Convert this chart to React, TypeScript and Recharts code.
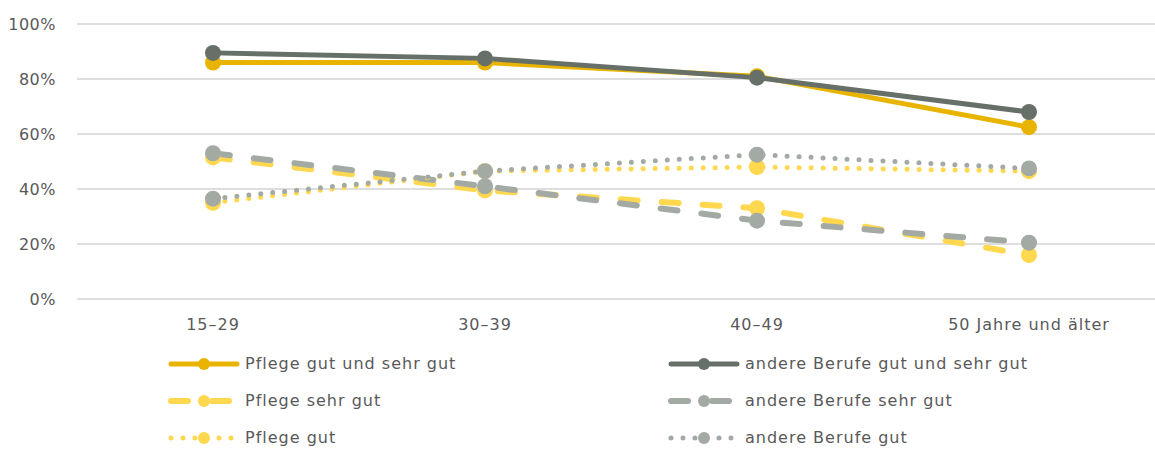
import { LineChart, Line, XAxis, YAxis, CartesianGrid, Legend } from "recharts";

const categories = ["15–29", "30–39", "40–49", "50 Jahre und älter"];
const yTicks = [0, 20, 40, 60, 80, 100];

const pflegeGesamt = [86, 86, 81, 62.5];
const andereGesamt = [89.5, 87.5, 80.5, 68];
const pflegeSehrGut = [51.5, 39.5, 33, 16];
const andereSehrGut = [53, 41, 28.5, 20.5];
const pflegeGut = [35, 46.5, 48, 46.5];
const andereGut = [36.5, 46.5, 52.5, 47.5];

const FONT = "'DejaVu Sans', Verdana, sans-serif";
const TEXT = "#595959";

const chartData = categories.map((name, i) => ({
  name,
  pflegeGesamt: pflegeGesamt[i],
  andereGesamt: andereGesamt[i],
  pflegeSehrGut: pflegeSehrGut[i],
  andereSehrGut: andereSehrGut[i],
  pflegeGut: pflegeGut[i],
  andereGut: andereGut[i],
}));

const DASH = "17 24";
const DOT = "0 12";

const series = [
  { key: "pflegeGesamt", label: "Pflege gut und sehr gut", color: "#e9b400", width: 5, dash: undefined },
  { key: "andereGesamt", label: "andere Berufe gut und sehr gut", color: "#667069", width: 5, dash: undefined },
  { key: "pflegeSehrGut", label: "Pflege sehr gut", color: "#ffd84f", width: 6, dash: DASH },
  { key: "andereSehrGut", label: "andere Berufe sehr gut", color: "#a3aaa4", width: 6, dash: DASH },
  { key: "pflegeGut", label: "Pflege gut", color: "#ffd84f", width: 5, dash: DOT },
  { key: "andereGut", label: "andere Berufe gut", color: "#a3aaa4", width: 5, dash: DOT },
];

function LegendBox() {
  return (
    <div style={{ display: "grid", gridTemplateColumns: "500px 500px", fontFamily: FONT, fontSize: 16, letterSpacing: 1, color: TEXT }}>
      {series.map((s) => (
        <div key={s.key} style={{ height: 37, display: "flex", alignItems: "center" }}>
          <svg width={72} height={16} style={{ marginRight: 5 }}>
            <line x1={3} y1={8} x2={69} y2={8} stroke={s.color} strokeWidth={s.width} strokeDasharray={s.dash} strokeLinecap="round" />
            <circle cx={36} cy={8} r={6} fill={s.color} />
          </svg>
          <span>{s.label}</span>
        </div>
      ))}
    </div>
  );
}

export default function App() {
  return (
    <div style={{ position: "absolute", left: 0, top: 0, width: 1155, height: 450, overflow: "hidden", background: "#fff" }}>
      <LineChart width={1170} height={450} data={chartData} margin={{ top: 24, right: 5, bottom: 121, left: 0 }}>
        <CartesianGrid stroke="#dedede" strokeWidth={2} vertical={false} />
        <XAxis
          dataKey="name"
          axisLine={false}
          tickLine={false}
          tickMargin={14}
          height={30}
          padding={{ left: 136, right: 136 }}
          tick={{ fill: TEXT, fontSize: 16, fontFamily: FONT, letterSpacing: 1 }}
        />
        <YAxis
          width={77}
          domain={[0, 100]}
          ticks={yTicks}
          axisLine={false}
          tickLine={false}
          tickMargin={15}
          tickFormatter={(v: number) => `${v}%`}
          tick={{ fill: TEXT, fontSize: 16, fontFamily: FONT, letterSpacing: 0.5 }}
        />
        <Legend
          layout="horizontal"
          verticalAlign="middle"
          align="center"
          content={() => <LegendBox />}
          wrapperStyle={{ position: "absolute", top: 345, left: 168, width: 1000 }}
        />
        {series.map((s) => (
          <Line
            key={s.key}
            dataKey={s.key}
            name={s.label}
            type="linear"
            stroke={s.color}
            strokeWidth={s.width}
            strokeDasharray={s.dash}
            strokeLinecap="round"
            dot={{ r: 8, fill: s.color, stroke: "none", strokeWidth: 0 }}
            activeDot={false}
            isAnimationActive={false}
          />
        ))}
      </LineChart>
    </div>
  );
}
